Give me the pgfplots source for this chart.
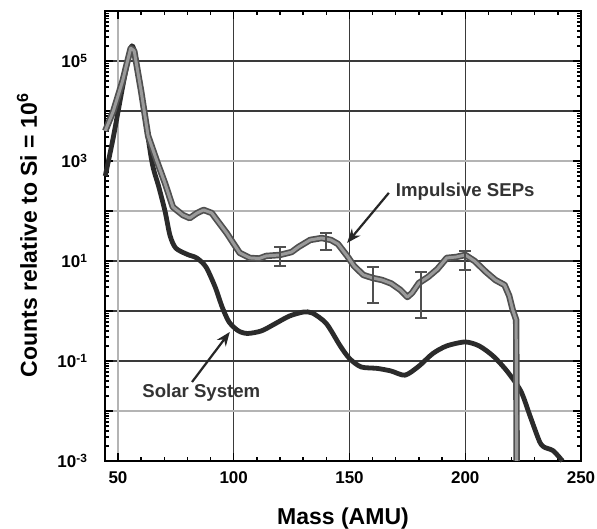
\documentclass[border=0pt]{standalone}
\usepackage{fontspec}
\setmainfont{Liberation Sans}
\usepackage{pgfplots}
\pgfplotsset{compat=1.18}
\usetikzlibrary{arrows.meta}
\definecolor{solar}{HTML}{2B2B2B}
\definecolor{sepOut}{HTML}{505050}
\definecolor{sepIn}{HTML}{9A9A9A}
\definecolor{gridD}{HTML}{3A3A3A}
\definecolor{gridL}{HTML}{B4B4B4}

\pgfplotstableread{
x y
44.5 4.0e3
48 1.0e4
52 4.0e4
55.5 1.8e5
57 1.6e5
60 2.5e4
63 3.2e3
66.8 1.0e3
70.3 360
73.7 120
78 83
81 72
84 90
87 105
90.5 91
94 55
97 36
100 22
102.6 14.5
107 11.5
111 11.2
114 12.6
120 13.2
125 15.1
128 19.1
133 26.3
138 28.8
142 26.3
145 21.9
149 12.6
152 7.9
156 5.25
160 4.57
164 4.17
168 3.55
172 2.63
175 1.9
177 2.29
180 3.63
184 4.8
188 6.9
192 11.5
196 12.0
200 13.2
204 10
209 6.0
213 4.17
217 3.3
219 2.0
220.5 1.05
222 0.66
222.2 0.001
}\septable

\begin{document}
\begin{tikzpicture}
\begin{semilogyaxis}[
  width=238pt, height=225pt, scale only axis,
  xmin=44.4, xmax=250, ymin=1e-3, ymax=1e6,
  clip=false,
  axis line style={black, line width=1pt},
  tick style={black, line width=0.7pt},
  major tick length=4pt, minor tick length=2.2pt,
  grid=major, major grid style={gridD, line width=0.7pt},
  xtick={100,150,200,250}, xticklabels={100,150,200,250},
  extra x ticks={50}, extra x tick labels={50},
  extra x tick style={grid=major, major grid style={gridL, line width=0.7pt}},
  minor xtick={60,70,80,90,110,120,130,140,160,170,180,190,210,220,230,240},
  ytick={1e-3,1e-1,1e0,1e1,1e4,1e5,1e6},
  yticklabels={10\textsuperscript{-3},10\textsuperscript{-1},,10\textsuperscript{1},,10\textsuperscript{5},},
  extra y ticks={1e-2,1e2,1e3}, extra y tick labels={,,10\textsuperscript{3}},
  extra y tick style={grid=major, major grid style={gridL, line width=0.7pt}},
  minor ytick={2e-3,3e-3,4e-3,5e-3,6e-3,7e-3,8e-3,9e-3,
    2e-2,3e-2,4e-2,5e-2,6e-2,7e-2,8e-2,9e-2,
    2e-1,3e-1,4e-1,5e-1,6e-1,7e-1,8e-1,9e-1,
    2,3,4,5,6,7,8,9, 20,30,40,50,60,70,80,90,
    200,300,400,500,600,700,800,900,
    2e3,3e3,4e3,5e3,6e3,7e3,8e3,9e3,
    2e4,3e4,4e4,5e4,6e4,7e4,8e4,9e4,
    2e5,3e5,4e5,5e5,6e5,7e5,8e5,9e5},
  tick label style={font=\bfseries\fontsize{8.5}{10}\selectfont},
  xticklabel style={yshift=-2pt},
  yticklabel style={xshift=-5pt},
  xlabel={Mass (AMU)},
  ylabel={Counts relative to Si = 10\textsuperscript{6}},
  label style={font=\bfseries\fontsize{11.5}{13}\selectfont},
  xlabel style={at={(axis description cs:0.5,-0.127)}, anchor=center},
  ylabel style={at={(axis description cs:-0.164,0.502)}, anchor=center},
]
% Solar System
\addplot[solar, line width=2.4pt, line join=round, smooth, tension=0.45] coordinates {
 (44.5,500) (48,3.0e3) (52,3.0e4) (55.5,1.8e5) (57,1.6e5) (60,2.5e4)
 (64.6,1.0e3) (67.5,320) (70.3,100) (72.5,32) (75,18) (80,13.5) (84,11.5)
 (88,7.6) (92,3.0) (95,1.2) (98,0.60) (102,0.40) (106,0.355) (112,0.40) (118,0.56)
 (124,0.79) (130,0.95) (134,0.91) (140,0.56) (146,0.20) (150,0.112)
 (155,0.076) (162,0.071) (168,0.063) (174,0.052) (180,0.079) (186,0.141)
 (192,0.20) (200,0.24) (206,0.20) (212,0.126) (218,0.063) (224,0.025)
 (228,0.0079) (232,0.0025) (234,0.0019) (238,0.0016) (242,0.001)};
% Impulsive SEPs: dark rim, then light core
\addplot[sepOut, line width=3.2pt, line join=round] table {\septable};
\addplot[sepIn, line width=1.5pt, line join=round] table {\septable};
% error bars
\addplot[draw=none, mark=none, sepOut,
  error bars/.cd, y dir=both, y explicit,
  error bar style={line width=1pt, sepOut},
  error mark options={rotate=90, mark size=3pt, line width=1pt, sepOut}]
  coordinates {
  (120,13.2) += (0,5.9) -= (0,5.3)
  (140,27.5) += (0,8.8) -= (0,10.9)
  (160,4.57) += (0,3.0) -= (0,3.1)
  (181,3.63) += (0,2.4) -= (0,2.9)
  (200,13.2) += (0,2.6) -= (0,6.6)};
% annotations
\node[font=\bfseries\fontsize{9.3}{11}\selectfont, text=black!80] at (axis cs:200,240) {Impulsive SEPs};
\draw[black!85, line width=1.1pt, -{Stealth[length=7pt,width=5.5pt]}] (axis cs:167,230) -- (axis cs:149,23);
\node[font=\bfseries\fontsize{9.3}{11}\selectfont, text=black!80] at (axis cs:86,0.023) {Solar System};
\draw[black!85, line width=1.1pt, -{Stealth[length=7pt,width=5.5pt]}] (axis cs:82,0.038) -- (axis cs:98.3,0.38);
\coordinate (bl) at (axis description cs:-0.2206,-0.1511);
\coordinate (tr) at (axis description cs:1.0336,1.0244);
\end{semilogyaxis}
\pgfresetboundingbox
\useasboundingbox (bl) rectangle (tr);
\end{tikzpicture}
\end{document}
